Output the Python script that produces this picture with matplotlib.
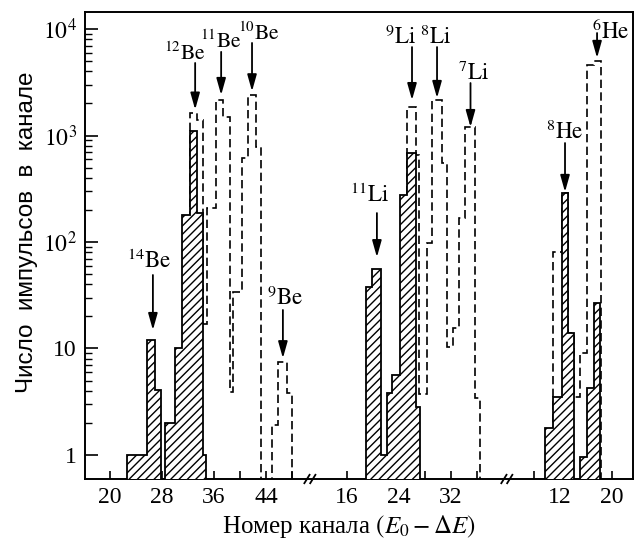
import numpy as np
import matplotlib
matplotlib.use('Agg')
import matplotlib.pyplot as plt
from matplotlib.ticker import FixedLocator, NullFormatter
import matplotlib.transforms as mtransforms

plt.rcParams['font.family'] = ['Liberation Serif', 'DejaVu Serif']
plt.rcParams['mathtext.fontset'] = 'stix'
plt.rcParams['hatch.linewidth'] = 1.0

# ---------------- data (channel numbers, counts per channel) ----------------
# segment 1 : beryllium
be14_edges = [22.6, 25.7, 26.9, 27.8]
be14_counts = [1.0, 12.0, 4.1]
be12_edges = [28.5, 30.0, 31.1, 32.3, 33.4, 34.3, 34.8]
be12_counts = [2.0, 10.0, 180.0, 1100.0, 187.0, 1.0]
be_dash_edges = [32.3, 33.4, 34.3, 34.9, 36.3, 37.4, 38.5, 38.9, 40.3, 41.2, 42.4, 43.2]
be_dash_counts = [1630, 1400, 17, 210, 2150, 1490, 3.9, 34, 620, 2400, 780]
be9_edges = [44.9, 45.8, 47.2, 48.0]
be9_counts = [1.9, 7.5, 3.8]

# segment 2 : lithium
li_hatch_edges = [18.9, 19.8, 21.2, 22.1, 22.9, 24.1, 25.2, 26.6, 27.2]
li_hatch_counts = [38, 56, 1.0, 3.8, 5.6, 276, 690, 2.8]
li_dash_edges = [25.2, 26.6, 27.1, 28.3, 29.1, 30.6, 31.4, 32.3, 33.2, 34.1, 35.7, 36.5]
li_dash_counts = [1850, 660, 3.7, 98, 2150, 550, 10.3, 15.5, 168, 1200, 3.4]

# segment 3 : helium
he8_edges = [9.7, 10.9, 12.3, 13.2, 14.1]
he8_counts = [1.8, 3.5, 290, 14]
he6_edges = [15.1, 16.1, 17.2, 18.1]
he6_counts = [0.95, 4.3, 27]
he_dash_edges = [10.9, 12.3, 13.2, 14.1, 15.1, 16.1, 17.2, 18.3]
he_dash_counts = [80, 290, 14, 3.5, 9, 4600, 5000]

# axis ticks
seg1_ticklabels = [20, 28, 36, 44]
seg2_ticklabels = [16, 24, 32]
seg3_ticklabels = [12, 20]
seg1_minor = [24, 32, 40, 48]
seg2_minor = [20, 28, 36]
seg3_minor = [8, 16]
ytick_values = [1, 10, 100, 1000, 10000]
ytick_labels = ['1', '10', '$10^2$', '$10^3$', '$10^4$']

# isotope labels: (text, segment, label x, label baseline, arrow x, arrow tail, arrow tip, size)
labels = [
    (r'$^{14}\mathrm{Be}$', 1, 26.1, 57, 26.6, 49, 14.9, 16.5),
    (r'$^{12}\mathrm{Be}$', 1, 31.45, 5100, 33.1, 4800, 1750, 15.5),
    (r'$^{11}\mathrm{Be}$', 1, 37.1, 6600, 37.1, 6100, 2400, 15.5),
    (r'$^{10}\mathrm{Be}$', 1, 42.85, 7900, 41.85, 7400, 2600, 15.5),
    (r'$^{9}\mathrm{Be}$', 1, 46.9, 25.6, 46.6, 23, 8.1, 16.5),
    (r'$^{11}\mathrm{Li}$', 2, 19.5, 238, 20.6, 187, 72, 16.5),
    (r'$^{9}\mathrm{Li}$', 2, 24.3, 7230, 26.0, 6770, 2150, 16.5),
    (r'$^{8}\mathrm{Li}$', 2, 29.7, 7230, 29.85, 6770, 2250, 16.5),
    (r'$^{7}\mathrm{Li}$', 2, 35.4, 3320, 35.0, 3110, 1200, 16.5),
    (r'$^{8}\mathrm{He}$', 3, 12.7, 927, 12.77, 850, 295, 16.5),
    (r'$^{6}\mathrm{He}$', 3, 19.85, 8050, 17.7, 9170, 5350, 16.5),
]

# ---------------- layout ----------------
seg_offsets = {1: -16.154, 2: 24.31, 3: 61.08}
breaks_x = [34.6, 64.9]


def gx(seg, c):
    return np.asarray(c, dtype=float) + seg_offsets[seg]


fig = plt.figure(figsize=(6.36, 5.47), dpi=100)
ax = fig.add_axes([85 / 636, 68 / 547, 548 / 636, 467 / 547])
ax.set_yscale('log')
ax.set_ylim(0.595, 14450)
ax.set_xlim(0, 84.31)

dash = (0, (5, 2.6))
base = 0.3

# dashed histograms (behind)
for seg, e, v in [(1, be_dash_edges, be_dash_counts), (1, be9_edges, be9_counts),
                  (2, li_dash_edges, li_dash_counts), (3, he_dash_edges, he_dash_counts)]:
    ax.stairs(v, gx(seg, e), baseline=base, fill=False, edgecolor='black',
              linestyle=dash, linewidth=1.2, zorder=2)

# hatched histograms (front)
for seg, e, v in [(1, be14_edges, be14_counts), (1, be12_edges, be12_counts),
                  (2, li_hatch_edges, li_hatch_counts), (3, he8_edges, he8_counts),
                  (3, he6_edges, he6_counts)]:
    ax.stairs(v, gx(seg, e), baseline=base, fill=True, facecolor='white',
              edgecolor='black', hatch='////', linewidth=1.3, zorder=3)

# labels with arrows
for txt, seg, lx, ly, axx, tail, tip, fs in labels:
    ax.text(gx(seg, lx), ly, txt, ha='center', va='baseline', fontsize=fs, zorder=5)
    ax.annotate('', xy=(gx(seg, axx), tip), xytext=(gx(seg, axx), tail),
                arrowprops=dict(arrowstyle='-|>,head_length=1.0,head_width=0.28',
                                color='black', lw=1.3, shrinkA=0, shrinkB=0,
                                mutation_scale=10), zorder=5)

# x ticks
major_pos = np.concatenate([gx(1, seg1_ticklabels), gx(2, seg2_ticklabels), gx(3, seg3_ticklabels)])
major_lab = [str(v) for v in seg1_ticklabels + seg2_ticklabels + seg3_ticklabels]
minor_pos = np.concatenate([gx(1, seg1_minor), gx(2, seg2_minor), gx(3, seg3_minor)])
ax.xaxis.set_major_locator(FixedLocator(major_pos))
ax.set_xticklabels(major_lab)
ax.xaxis.set_minor_locator(FixedLocator(minor_pos))
ax.tick_params(axis='x', which='both', direction='in', length=6, width=1.2,
               top=False, pad=6, labelsize=17)

# y ticks
ax.yaxis.set_major_locator(FixedLocator(ytick_values))
ax.set_yticklabels(ytick_labels)
minor_y = [m * d for d in ytick_values[:-1] for m in range(2, 10)]
ax.yaxis.set_minor_locator(FixedLocator(minor_y))
ax.yaxis.set_minor_formatter(NullFormatter())
ax.tick_params(axis='y', which='major', direction='in', length=9, width=1.2,
               right=False, pad=6, labelsize=17)
ax.tick_params(axis='y', which='minor', direction='in', length=5, width=1.0, right=False)

for s in ax.spines.values():
    s.set_linewidth(1.4)

# axis break marks
trans = mtransforms.blended_transform_factory(ax.transData, ax.transAxes)
for bx in breaks_x:
    for dx in (-0.45, 0.45):
        ax.plot([bx + dx - 0.4, bx + dx + 0.4], [-0.009, 0.009], color='black',
                lw=1.3, transform=trans, clip_on=False, zorder=6)

fig.text(349 / 636, 1 - 527 / 547, r'Номер канала $(E_0 - \Delta E)$', ha='center',
         va='center', fontsize=18)
fig.text(27 / 636, 1 - 232 / 547, 'Число  импульсов  в  канале', rotation=90,
         ha='center', va='center', fontsize=17.5, family=['Liberation Sans', 'DejaVu Sans'])

fig.savefig('out.png', dpi=100)
